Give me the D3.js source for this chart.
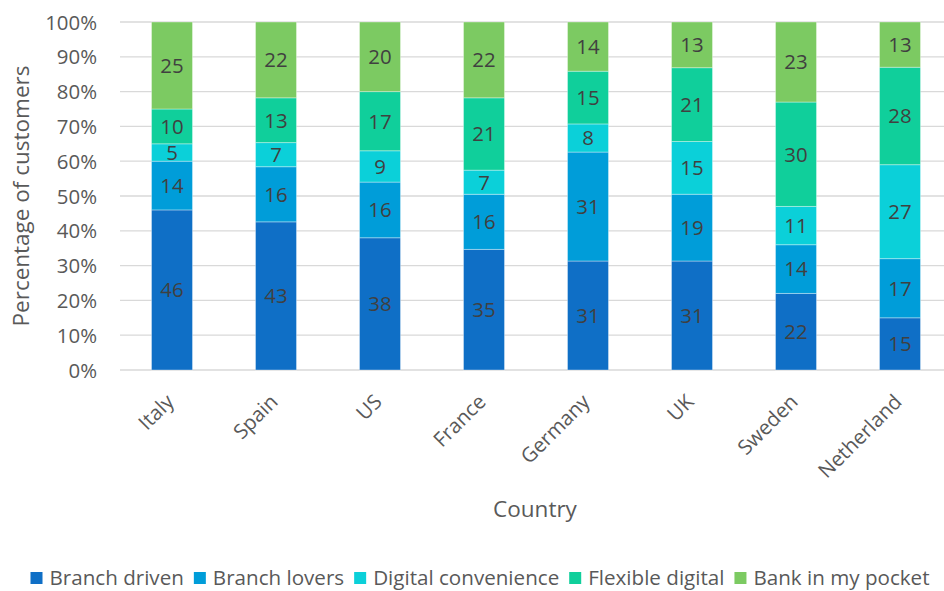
<!DOCTYPE html>
<html>
<head>
<meta charset="utf-8">
<script src="https://cdn.jsdelivr.net/npm/d3@7/dist/d3.min.js"></script>
<style>
  html, body { margin: 0; padding: 0; background: #fff; }
  svg { display: block; font-family: "Open Sans", sans-serif; }
</style>
</head>
<body>
<svg id="chart" width="944" height="591"></svg>
<script>
// Customer segments per country (share of customers, %)
const countries = ["Italy", "Spain", "US", "France", "Germany", "UK", "Sweden", "Netherland"];
const segments = ["Branch driven", "Branch lovers", "Digital convenience", "Flexible digital", "Bank in my pocket"];
const branchDriven       = [46, 43, 38, 35, 31, 31, 22, 15];
const branchLovers       = [14, 16, 16, 16, 31, 19, 14, 17];
const digitalConvenience = [5, 7, 9, 7, 8, 15, 11, 27];
const flexibleDigital    = [10, 13, 17, 21, 15, 21, 30, 28];
const bankInMyPocket     = [25, 22, 20, 22, 14, 13, 23, 13];
const yTicks = [0, 0.1, 0.2, 0.3, 0.4, 0.5, 0.6, 0.7, 0.8, 0.9, 1];

const colors = ["#0F6FC6", "#009DD9", "#0BD0D9", "#10CF9B", "#7CCA62"];
const seriesValues = [branchDriven, branchLovers, digitalConvenience, flexibleDigital, bankInMyPocket];

const rows = countries.map((c, i) => {
  const r = { country: c };
  segments.forEach((s, j) => { r[s] = seriesValues[j][i]; });
  return r;
});

const svg = d3.select("#chart");

const x = d3.scaleBand()
  .domain(countries)
  .range([120, 952])
  .paddingInner(0.606)
  .paddingOuter(0.303);

const y = d3.scaleLinear().domain([0, 1]).range([370, 22]);

const color = d3.scaleOrdinal().domain(segments).range(colors);

// Gridlines
svg.append("g")
  .selectAll("line")
  .data(yTicks)
  .join("line")
  .attr("x1", 120).attr("x2", 952)
  .attr("y1", d => y(d)).attr("y2", d => y(d))
  .attr("stroke", "#d9d9d9")
  .attr("stroke-width", 1.3);

// Y axis tick labels
const yAxis = d3.axisLeft(y).tickValues(yTicks).tickFormat(d3.format(".0%")).tickSize(0).tickPadding(0);
svg.append("g")
  .attr("transform", "translate(97,0)")
  .call(yAxis)
  .call(g => g.select(".domain").remove())
  .call(g => g.selectAll("text")
    .attr("font-family", "Open Sans, sans-serif")
    .attr("font-size", 20.4)
    .attr("fill", "#595959")
    .attr("dy", "0.35em"));

// Stacked, normalised to 100%
const stacked = d3.stack().keys(segments).offset(d3.stackOffsetExpand)(rows);

const layer = svg.append("g")
  .selectAll("g")
  .data(stacked)
  .join("g")
  .attr("fill", d => color(d.key));

layer.selectAll("rect")
  .data(d => d)
  .join("rect")
  .attr("x", d => x(d.data.country))
  .attr("width", x.bandwidth())
  .attr("y", d => y(d[1]))
  .attr("height", d => y(d[0]) - y(d[1]))
  .attr("stroke", "rgba(255,255,255,0.35)")
  .attr("stroke-width", 1);

// Segment value labels
layer.selectAll("text")
  .data(d => d.map(v => ({ v, key: d.key })))
  .join("text")
  .attr("x", d => x(d.v.data.country) + x.bandwidth() / 2)
  .attr("y", d => (y(d.v[0]) + y(d.v[1])) / 2)
  .attr("dy", "0.36em")
  .attr("text-anchor", "middle")
  .attr("font-size", 20.4)
  .attr("fill", "#404040")
  .text(d => d.v.data[d.key]);

// X axis category labels, rotated
const xAxis = d3.axisBottom(x).tickSize(0).tickPadding(0);
svg.append("g")
  .attr("transform", "translate(0,370)")
  .call(xAxis)
  .call(g => g.select(".domain").remove())
  .call(g => g.selectAll("text")
    .attr("font-family", "Open Sans, sans-serif")
    .attr("font-size", 20.4)
    .attr("fill", "#595959")
    .attr("text-anchor", "end")
    .attr("dy", "0.7em")
    .attr("transform", "translate(-7,23) rotate(-45)"));

// Axis titles
svg.append("text")
  .attr("transform", "translate(29,196) rotate(-90)")
  .attr("text-anchor", "middle")
  .attr("font-size", 22.5)
  .attr("fill", "#595959")
  .text("Percentage of customers");

svg.append("text")
  .attr("x", 535)
  .attr("y", 517)
  .attr("text-anchor", "middle")
  .attr("font-size", 22.5)
  .attr("fill", "#595959")
  .text("Country");

// Legend
const legend = svg.append("g");
const items = legend.selectAll("g")
  .data(segments)
  .join("g");
items.append("rect")
  .attr("width", 12).attr("height", 12)
  .attr("y", -6)
  .attr("fill", d => color(d));
items.append("text")
  .attr("x", 19)
  .attr("dy", "0.35em")
  .attr("font-size", 20.6)
  .attr("fill", "#595959")
  .text(d => d);

let cursor = 0;
items.each(function () {
  const w = this.querySelector("text").getComputedTextLength();
  d3.select(this).attr("transform", `translate(${cursor},0)`);
  cursor += 19 + w + 10;
});
const totalW = cursor - 10;
legend.attr("transform", `translate(${480 - totalW / 2},578)`);
</script>
</body>
</html>
